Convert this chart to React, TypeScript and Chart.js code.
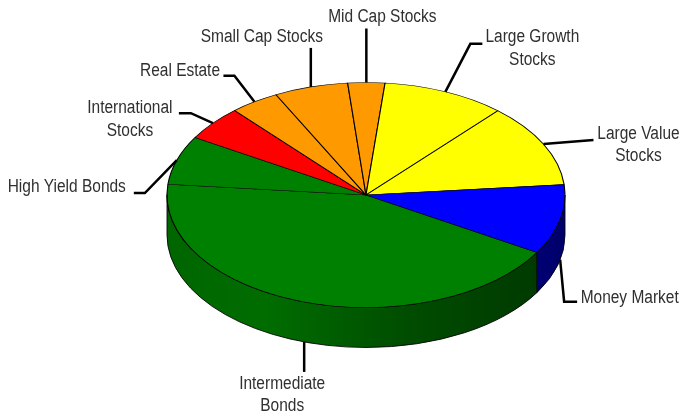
import React, { useEffect, useRef } from 'react';
import { Chart, registerables } from 'chart.js';

Chart.register(...registerables);

const categories = [
  'Intermediate Bonds',
  'High Yield Bonds',
  'International Stocks',
  'Real Estate',
  'Small Cap Stocks',
  'Mid Cap Stocks',
  'Large Growth Stocks',
  'Large Value Stocks',
  'Money Market',
];
const labelLines = [
  ['Intermediate', 'Bonds'],
  ['High Yield Bonds'],
  ['International', 'Stocks'],
  ['Real Estate'],
  ['Small Cap Stocks'],
  ['Mid Cap Stocks'],
  ['Large Growth', 'Stocks'],
  ['Large Value', 'Stocks'],
  ['Money Market'],
];
const allocations = [43, 7, 5, 4, 6, 3, 10, 12, 10];
const sliceColors = ['#008000', '#008000', '#ff0000', '#ff9900', '#ff9900', '#ff9900', '#ffff00', '#ffff00', '#0000ff'];

// layout / style constants
const TILT = 0.5653;
const DEPTH = 40;
const CENTER_Y = 195;
const START_ROTATION = 120.7;
const RADIUS = 199;

type Callout = { path: number[][]; text: number[]; align: CanvasTextAlign };
const callouts: Callout[] = [
  { path: [[0, 0], [0, 30]], text: [-22, 42], align: 'center' },
  { path: [[0, 0], [-32, 33], [-43, 33]], text: [-51, 27], align: 'right' },
  { path: [[0, 0], [-22, -10], [-34, -10]], text: [-83, -14.8], align: 'center' },
  { path: [[0, 0], [-20, -26], [-31, -26]], text: [-34.4, -31.2], align: 'right' },
  { path: [[0, 0], [0, -39]], text: [-49, -50], align: 'center' },
  { path: [[0, 0], [0, -54]], text: [16, -65.5], align: 'center' },
  { path: [[0, 0], [25, -48], [37, -48]], text: [87, -54.5], align: 'center' },
  { path: [[0, 0], [50, -4]], text: [95, -9.8], align: 'center' },
  { path: [[0, 0], [4, 42], [17, 42]], text: [20.5, 38.6], align: 'left' },
];

function hexToRgb(h: string) {
  const n = parseInt(h.slice(1), 16);
  return [(n >> 16) & 255, (n >> 8) & 255, n & 255];
}
function shade(h: string, f: number) {
  const [r, g, b] = hexToRgb(h);
  return `rgb(${Math.round(r * f)},${Math.round(g * f)},${Math.round(b * f)})`;
}

const pie3d = {
  id: 'pie3d',
  beforeDatasetsDraw(chart: any) {
    const ctx: CanvasRenderingContext2D = chart.ctx;
    const arcs: any[] = chart.getDatasetMeta(0).data;
    if (!arcs.length) return;
    const cx = arcs[0].x;
    const cy = arcs[0].y;
    const r = arcs[0].outerRadius;
    const ry = r * TILT;
    const TAU = Math.PI * 2;
    arcs.forEach((arc: any, i: number) => {
      const s = arc.startAngle;
      const e = arc.endAngle;
      const col = sliceColors[i];
      for (const base of [-TAU, 0, TAU]) {
        const a1 = Math.max(s, base);
        const a2 = Math.min(e, base + Math.PI);
        if (a2 <= a1) continue;
        const g = ctx.createLinearGradient(cx - r, 0, cx + r, 0);
        g.addColorStop(0, shade(col, 0.8));
        g.addColorStop(0.25, shade(col, 0.85));
        g.addColorStop(0.6, shade(col, 0.6));
        g.addColorStop(1, shade(col, 0.42));
        ctx.save();
        ctx.beginPath();
        ctx.ellipse(cx, CENTER_Y, r, ry, 0, a1, a2, false);
        ctx.lineTo(cx + r * Math.cos(a2), CENTER_Y + DEPTH + ry * Math.sin(a2));
        ctx.ellipse(cx, CENTER_Y + DEPTH, r, ry, 0, a2, a1, true);
        ctx.closePath();
        ctx.fillStyle = g;
        ctx.fill();
        ctx.lineWidth = 1;
        ctx.strokeStyle = 'rgba(0,0,0,0.85)';
        ctx.stroke();
        ctx.restore();
      }
    });
    ctx.save();
    ctx.translate(0, CENTER_Y);
    ctx.scale(1, TILT);
    ctx.translate(0, -cy);
  },
  afterDatasetsDraw(chart: any) {
    chart.ctx.restore();
  },
};

const calloutPlugin = {
  id: 'callouts',
  afterDraw(chart: any) {
    const ctx: CanvasRenderingContext2D = chart.ctx;
    const arcs: any[] = chart.getDatasetMeta(0).data;
    arcs.forEach((arc: any, i: number) => {
      const m = (arc.startAngle + arc.endAngle) / 2;
      const r = arc.outerRadius;
      const ax = arc.x + r * Math.cos(m);
      let ay = CENTER_Y + r * TILT * Math.sin(m);
      if (Math.sin(m) > 0) ay += DEPTH;
      const c = callouts[i];
      ctx.save();
      ctx.beginPath();
      c.path.forEach((p, k) => {
        if (k === 0) ctx.moveTo(ax + p[0], ay + p[1]);
        else ctx.lineTo(ax + p[0], ay + p[1]);
      });
      ctx.lineWidth = 2.5;
      ctx.strokeStyle = '#000';
      ctx.lineJoin = 'miter';
      ctx.stroke();
      ctx.fillStyle = '#303030';
      ctx.font = '18px "Liberation Sans", Arial, sans-serif';
      ctx.textAlign = c.align;
      ctx.textBaseline = 'middle';
      labelLines[i].forEach((line, k) => {
        ctx.save();
        ctx.translate(ax + c.text[0], ay + c.text[1] + k * 22.2);
        ctx.scale(0.86, 1);
        ctx.fillText(line, 0, 0);
        ctx.restore();
      });
      ctx.restore();
    });
  },
};

export default function App() {
  const ref = useRef<HTMLCanvasElement>(null);
  useEffect(() => {
    document.body.style.margin = '0';
    const chart = new Chart(ref.current as HTMLCanvasElement, {
      type: 'pie',
      data: {
        labels: categories,
        datasets: [
          {
            data: allocations,
            backgroundColor: sliceColors,
            borderColor: '#000',
            borderWidth: 1.1,
            clip: false,
          } as any,
        ],
      },
      options: {
        responsive: false,
        animation: false,
        devicePixelRatio: 1,
        rotation: START_ROTATION,
        radius: RADIUS,
        layout: { padding: { left: 49 } },
        events: [],
        plugins: { legend: { display: false }, tooltip: { enabled: false } },
      } as any,
      plugins: [pie3d, calloutPlugin],
    });
    return () => chart.destroy();
  }, []);
  return (
    <div style={{ width: 683, height: 417, background: '#fff' }}>
      <canvas ref={ref} width={683} height={417} style={{ display: 'block' }} />
    </div>
  );
}
